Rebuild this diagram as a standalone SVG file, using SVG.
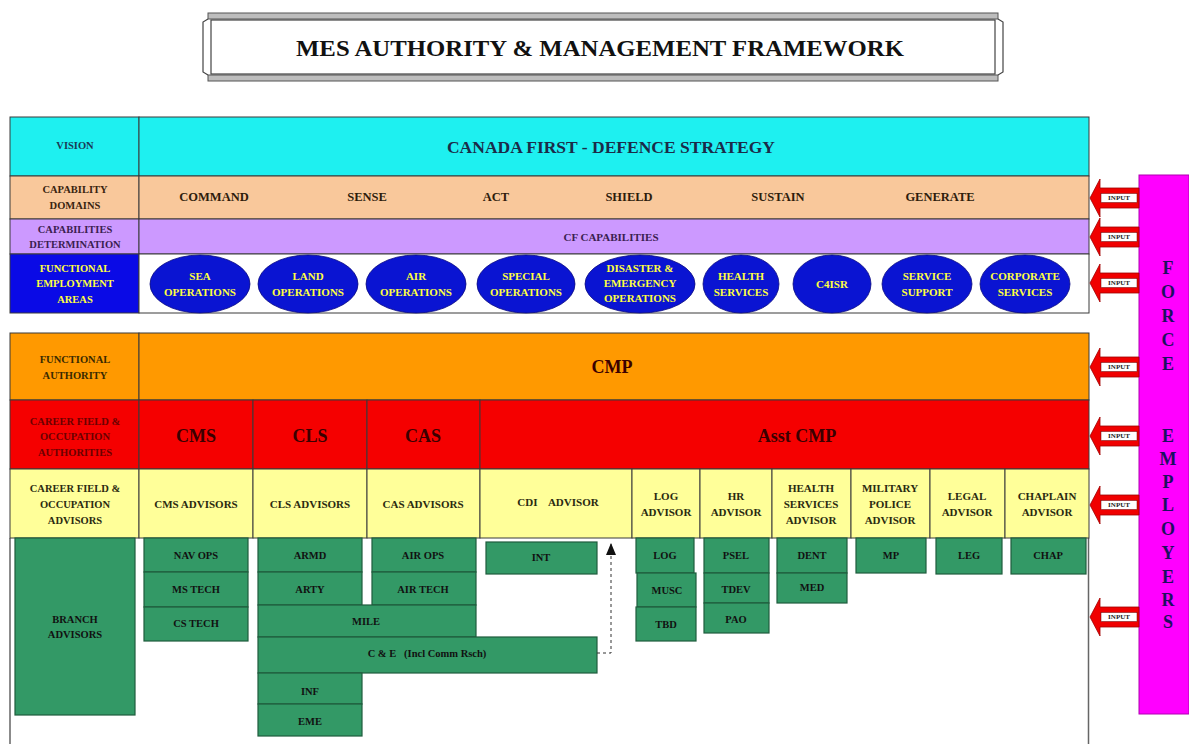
<svg xmlns="http://www.w3.org/2000/svg" width="1189" height="744" viewBox="0 0 1189 744">
<style>
text{font-family:"Liberation Serif","Times New Roman",serif;font-weight:bold;text-anchor:middle;dominant-baseline:central}
.cell{stroke:#3a3a3a;stroke-width:1}
.lbl{font-size:10.5px}
.g{fill:#339966;stroke:#1e5c3c;stroke-width:1.2}
.gt{font-size:10.5px;fill:#111}
.ov{fill:#0a14d2;stroke:#0a0a80;stroke-width:0.8}
.ot{font-size:11px;fill:#ffff40}
.adv{font-size:11px;fill:#2a2a10}
.big{font-size:18px;fill:#3a0000}
.dom{font-size:12.5px;fill:#2e1c0c}
.in{font-size:7px;fill:#222}
.fe{font-size:18px;fill:#1c1060}
</style>
<defs>
<marker id="ah" viewBox="0 0 12 10" refX="12" refY="5" markerWidth="12" markerHeight="10" markerUnits="userSpaceOnUse" orient="auto">
<path d="M0,0 L12,5 L0,10 Z" fill="#111"/>
</marker>
<g id="inputArrow">
<path d="M0,0 L10,-19 L10,-10 L49,-10 L49,10 L10,10 L10,19 Z" fill="#f00000" stroke="#a00000" stroke-width="0.8"/>
<rect x="11" y="-4.5" width="36" height="9" fill="#fff" stroke="#600" stroke-width="0.5"/>
<text x="29" y="0" class="in">INPUT</text>
</g>
</defs>
<rect width="1189" height="744" fill="#fff"/>

<g id="title">
<rect x="208" y="13" width="790" height="6" fill="#bdbdbd" stroke="#555" stroke-width="1"/>
<rect x="208" y="75" width="790" height="6" fill="#bdbdbd" stroke="#555" stroke-width="1"/>
<path d="M208,19 L203,22 L203,72 L208,75 M998,19 L1003,22 L1003,72 L998,75" fill="none" stroke="#444" stroke-width="1.2"/>
<rect x="211" y="20" width="784" height="54" fill="#fff" stroke="#444" stroke-width="1.2"/>
<text x="600" y="48" font-size="23" fill="#111" textLength="608" lengthAdjust="spacingAndGlyphs">MES AUTHORITY &amp; MANAGEMENT FRAMEWORK</text>
</g>

<g id="vision">
<rect class="cell" x="10" y="117" width="129" height="59" fill="#1ef0f0"/>
<rect class="cell" x="139" y="117" width="950" height="59" fill="#1ef0f0"/>
<text x="75" y="145" class="lbl" fill="#1a3a55">VISION</text>
<text x="611" y="147" font-size="17.5" fill="#1b2b48">CANADA FIRST - DEFENCE STRATEGY</text>
</g>

<g id="capability-domains">
<rect class="cell" x="10" y="176" width="129" height="43" fill="#f9c89b"/>
<rect class="cell" x="139" y="176" width="950" height="43" fill="#f9c89b"/>
<text x="75" y="189" class="lbl" fill="#3a2410">CAPABILITY</text>
<text x="75" y="205" class="lbl" fill="#3a2410">DOMAINS</text>
<text x="214" y="197" class="dom">COMMAND</text>
<text x="367" y="197" class="dom">SENSE</text>
<text x="496" y="197" class="dom">ACT</text>
<text x="629" y="197" class="dom">SHIELD</text>
<text x="778" y="197" class="dom">SUSTAIN</text>
<text x="940" y="197" class="dom">GENERATE</text>
</g>

<g id="capabilities-determination">
<rect class="cell" x="10" y="219" width="129" height="35" fill="#cc99ff"/>
<rect class="cell" x="139" y="219" width="950" height="35" fill="#cc99ff"/>
<text x="75" y="229" class="lbl" fill="#3a2050">CAPABILITIES</text>
<text x="75" y="244" class="lbl" fill="#3a2050">DETERMINATION</text>
<text x="611" y="237" font-size="11" fill="#3a2050">CF CAPABILITIES</text>
</g>

<g id="functional-employment-areas">
<rect class="cell" x="10" y="254" width="129" height="59" fill="#0a0ae6"/>
<rect class="cell" x="139" y="254" width="950" height="59" fill="#fff"/>
<text x="75" y="268" class="lbl" fill="#ffff40">FUNCTIONAL</text>
<text x="75" y="283" class="lbl" fill="#ffff40">EMPLOYMENT</text>
<text x="75" y="299" class="lbl" fill="#ffff40">AREAS</text>
</g>

<g id="sea-operations"><ellipse class="ov" cx="200" cy="284" rx="50" ry="29"/><text x="200" y="276" class="ot">SEA</text><text x="200" y="292" class="ot">OPERATIONS</text></g>
<g id="land-operations"><ellipse class="ov" cx="308" cy="284" rx="50" ry="29"/><text x="308" y="276" class="ot">LAND</text><text x="308" y="292" class="ot">OPERATIONS</text></g>
<g id="air-operations"><ellipse class="ov" cx="416" cy="284" rx="50" ry="29"/><text x="416" y="276" class="ot">AIR</text><text x="416" y="292" class="ot">OPERATIONS</text></g>
<g id="special-operations"><ellipse class="ov" cx="526" cy="284" rx="49" ry="29"/><text x="526" y="276" class="ot">SPECIAL</text><text x="526" y="292" class="ot">OPERATIONS</text></g>
<g id="disaster-operations"><ellipse class="ov" cx="640" cy="284" rx="55" ry="29"/><text x="640" y="268" class="ot">DISASTER &amp;</text><text x="640" y="283" class="ot">EMERGENCY</text><text x="640" y="298" class="ot">OPERATIONS</text></g>
<g id="health-services-fea"><ellipse class="ov" cx="741" cy="284" rx="38" ry="29"/><text x="741" y="276" class="ot">HEALTH</text><text x="741" y="292" class="ot">SERVICES</text></g>
<g id="c4isr"><ellipse class="ov" cx="832" cy="284" rx="39" ry="29"/><text x="832" y="284" class="ot">C4ISR</text></g>
<g id="service-support"><ellipse class="ov" cx="927" cy="284" rx="45" ry="29"/><text x="927" y="276" class="ot">SERVICE</text><text x="927" y="292" class="ot">SUPPORT</text></g>
<g id="corporate-services"><ellipse class="ov" cx="1025" cy="284" rx="45" ry="29"/><text x="1025" y="276" class="ot">CORPORATE</text><text x="1025" y="292" class="ot">SERVICES</text></g>

<g id="lower-frame">
<path d="M10,538 L10,744 M1088.5,538 L1088.5,744" stroke="#666" stroke-width="1.5" fill="none"/>
</g>

<g id="functional-authority">
<rect class="cell" x="10" y="333" width="129" height="67" fill="#ff9900"/>
<rect class="cell" x="139" y="333" width="950" height="67" fill="#ff9900"/>
<text x="75" y="359" class="lbl" fill="#3a2a00">FUNCTIONAL</text>
<text x="75" y="375" class="lbl" fill="#3a2a00">AUTHORITY</text>
<text x="612" y="367" class="big" fill="#2a1a00">CMP</text>
</g>

<g id="career-field-authorities">
<rect class="cell" x="10" y="400" width="129" height="69" fill="#f50000"/>
<text x="75" y="421" class="lbl" fill="#6a0000">CAREER FIELD &amp;</text>
<text x="75" y="436" class="lbl" fill="#6a0000">OCCUPATION</text>
<text x="75" y="452" class="lbl" fill="#6a0000">AUTHORITIES</text>
</g>
<g id="cms"><rect class="cell" x="139" y="400" width="114" height="69" fill="#f50000"/><text x="196" y="436" class="big">CMS</text></g>
<g id="cls"><rect class="cell" x="253" y="400" width="114" height="69" fill="#f50000"/><text x="310" y="436" class="big">CLS</text></g>
<g id="cas"><rect class="cell" x="367" y="400" width="113" height="69" fill="#f50000"/><text x="423" y="436" class="big">CAS</text></g>
<g id="asst-cmp"><rect class="cell" x="480" y="400" width="609" height="69" fill="#f50000"/><text x="797" y="436" class="big">Asst  CMP</text></g>

<g id="career-field-advisors">
<rect class="cell" x="10" y="469" width="129" height="69" fill="#ffff99"/>
<text x="75" y="488" class="lbl" fill="#2a2a10">CAREER FIELD &amp;</text>
<text x="75" y="504" class="lbl" fill="#2a2a10">OCCUPATION</text>
<text x="75" y="520" class="lbl" fill="#2a2a10">ADVISORS</text>
</g>
<g id="cms-advisors"><rect class="cell" x="139" y="469" width="114" height="69" fill="#ffff99"/><text x="196" y="504" class="adv">CMS ADVISORS</text></g>
<g id="cls-advisors"><rect class="cell" x="253" y="469" width="114" height="69" fill="#ffff99"/><text x="310" y="504" class="adv">CLS ADVISORS</text></g>
<g id="cas-advisors"><rect class="cell" x="367" y="469" width="113" height="69" fill="#ffff99"/><text x="423" y="504" class="adv">CAS ADVISORS</text></g>
<g id="cdi-advisor"><rect class="cell" x="480" y="469" width="152" height="69" fill="#ffff99"/><text x="558" y="502" class="adv" xml:space="preserve">CDI    ADVISOR</text></g>
<g id="log-advisor"><rect class="cell" x="632" y="469" width="68" height="69" fill="#ffff99"/><text x="666" y="496" class="adv">LOG</text><text x="666" y="512" class="adv">ADVISOR</text></g>
<g id="hr-advisor"><rect class="cell" x="700" y="469" width="72" height="69" fill="#ffff99"/><text x="736" y="496" class="adv">HR</text><text x="736" y="512" class="adv">ADVISOR</text></g>
<g id="health-services-advisor"><rect class="cell" x="772" y="469" width="79" height="69" fill="#ffff99"/><text x="811" y="488" class="adv">HEALTH</text><text x="811" y="504" class="adv">SERVICES</text><text x="811" y="520" class="adv">ADVISOR</text></g>
<g id="military-police-advisor"><rect class="cell" x="851" y="469" width="79" height="69" fill="#ffff99"/><text x="890" y="488" class="adv">MILITARY</text><text x="890" y="504" class="adv">POLICE</text><text x="890" y="520" class="adv">ADVISOR</text></g>
<g id="legal-advisor"><rect class="cell" x="930" y="469" width="75" height="69" fill="#ffff99"/><text x="967" y="496" class="adv">LEGAL</text><text x="967" y="512" class="adv">ADVISOR</text></g>
<g id="chaplain-advisor"><rect class="cell" x="1005" y="469" width="84" height="69" fill="#ffff99"/><text x="1047" y="496" class="adv">CHAPLAIN</text><text x="1047" y="512" class="adv">ADVISOR</text></g>

<g id="branch-advisors"><rect class="g" x="15" y="538" width="120" height="177"/><text x="75" y="619" class="gt">BRANCH</text><text x="75" y="634" class="gt">ADVISORS</text></g>
<g id="nav-ops"><rect class="g" x="144" y="538" width="104" height="34"/><text x="196" y="555" class="gt">NAV OPS</text></g>
<g id="ms-tech"><rect class="g" x="144" y="572" width="104" height="35"/><text x="196" y="589" class="gt">MS TECH</text></g>
<g id="cs-tech"><rect class="g" x="144" y="607" width="104" height="34"/><text x="196" y="623" class="gt">CS TECH</text></g>
<g id="armd"><rect class="g" x="258" y="538" width="104" height="34"/><text x="310" y="555" class="gt">ARMD</text></g>
<g id="arty"><rect class="g" x="258" y="572" width="104" height="33"/><text x="310" y="589" class="gt">ARTY</text></g>
<g id="air-ops"><rect class="g" x="372" y="538" width="104" height="34"/><text x="423" y="555" class="gt">AIR OPS</text></g>
<g id="air-tech"><rect class="g" x="372" y="572" width="104" height="33"/><text x="423" y="589" class="gt">AIR TECH</text></g>
<g id="mile"><rect class="g" x="258" y="605" width="218" height="32"/><text x="366" y="621" class="gt">MILE</text></g>
<g id="c-and-e"><rect class="g" x="258" y="637" width="339" height="36"/><text x="427" y="653" class="gt" xml:space="preserve">C &amp; E   (Incl Comm Rsch)</text></g>
<g id="inf"><rect class="g" x="258" y="673" width="104" height="31"/><text x="310" y="691" class="gt">INF</text></g>
<g id="eme"><rect class="g" x="258" y="704" width="104" height="32"/><text x="310" y="721" class="gt">EME</text></g>
<g id="int"><rect class="g" x="486" y="542" width="111" height="32"/><text x="541" y="557" class="gt">INT</text></g>
<g id="log"><rect class="g" x="636" y="538" width="58" height="35"/><text x="665" y="555" class="gt">LOG</text></g>
<g id="musc"><rect class="g" x="637" y="573" width="59" height="34"/><text x="667" y="590" class="gt">MUSC</text></g>
<g id="tbd"><rect class="g" x="636" y="607" width="60" height="34"/><text x="666" y="624" class="gt">TBD</text></g>
<g id="psel"><rect class="g" x="704" y="538" width="65" height="35"/><text x="736" y="555" class="gt">PSEL</text></g>
<g id="tdev"><rect class="g" x="704" y="573" width="65" height="30"/><text x="736" y="589" class="gt">TDEV</text></g>
<g id="pao"><rect class="g" x="704" y="603" width="65" height="30"/><text x="736" y="619" class="gt">PAO</text></g>
<g id="dent"><rect class="g" x="777" y="538" width="70" height="35"/><text x="812" y="555" class="gt">DENT</text></g>
<g id="med"><rect class="g" x="777" y="573" width="70" height="30"/><text x="812" y="587" class="gt">MED</text></g>
<g id="mp"><rect class="g" x="856" y="538" width="70" height="35"/><text x="891" y="555" class="gt">MP</text></g>
<g id="leg"><rect class="g" x="936" y="538" width="66" height="36"/><text x="969" y="555" class="gt">LEG</text></g>
<g id="chap"><rect class="g" x="1011" y="538" width="75" height="36"/><text x="1048" y="555" class="gt">CHAP</text></g>

<g id="connectors">
<path d="M597,653 L611,653 L611,543" fill="none" stroke="#333" stroke-width="1" stroke-dasharray="3,3" marker-end="url(#ah)"/>
</g>

<g id="force-employers">
<rect x="1139" y="175" width="50" height="539" fill="#ff00ff" stroke="#b000b0" stroke-width="1"/>
<text x="1168" y="268" class="fe">F</text>
<text x="1168" y="292" class="fe">O</text>
<text x="1168" y="316" class="fe">R</text>
<text x="1168" y="340" class="fe">C</text>
<text x="1168" y="364" class="fe">E</text>
<text x="1168" y="436" class="fe">E</text>
<text x="1168" y="459" class="fe">M</text>
<text x="1168" y="482" class="fe">P</text>
<text x="1168" y="505" class="fe">L</text>
<text x="1168" y="529" class="fe">O</text>
<text x="1168" y="553" class="fe">Y</text>
<text x="1168" y="577" class="fe">E</text>
<text x="1168" y="600" class="fe">R</text>
<text x="1168" y="622" class="fe">S</text>
</g>

<g id="input-arrows">
<use href="#inputArrow" x="1090" y="198"/>
<use href="#inputArrow" x="1090" y="237"/>
<use href="#inputArrow" x="1090" y="283"/>
<use href="#inputArrow" x="1090" y="367"/>
<use href="#inputArrow" x="1090" y="436"/>
<use href="#inputArrow" x="1090" y="505"/>
<use href="#inputArrow" x="1090" y="617"/>
</g>
</svg>
